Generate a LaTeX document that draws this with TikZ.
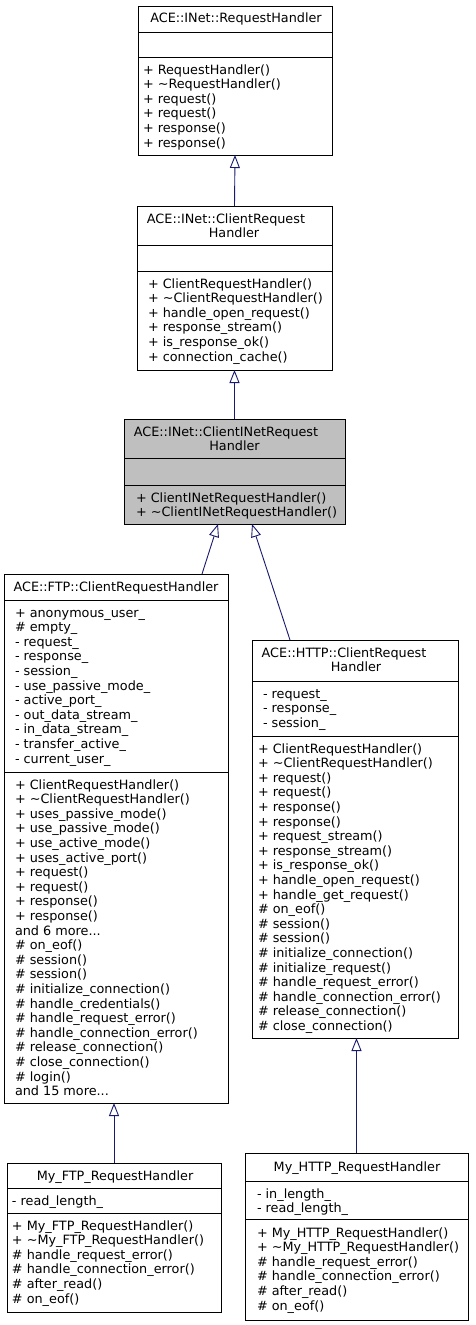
\documentclass[tikz,border=0pt]{standalone}
\usepackage{fontspec}
\setmainfont{DejaVu Sans}
\usetikzlibrary{arrows.meta}
\definecolor{edgeblue}{RGB}{25,25,112}
\definecolor{hlgray}{RGB}{191,191,191}
\tikzset{
  clsbox/.style={draw=black, line width=0.9pt, inner sep=0pt, outer sep=0pt, anchor=north west},
  divider/.style={draw=black, line width=0.9pt},
  txt/.style={inner sep=0pt, outer sep=0pt, font=\fontsize{12.8}{14.6}\selectfont},
  inh/.style={draw=edgeblue, line width=0.9pt, -{Triangle[open, length=13pt, width=10pt, fill=white]}},
}
\newcommand\Ellip{...}
\newcommand\ClassBox[7]{%
  \node[clsbox, fill=#6, minimum width={(#3)-(#2)}, minimum height={(#5)-(#4)}] (#1) at (#2,#4) {};
  \foreach \d in {#7} \draw[divider] (#2,\d) -- (#3,\d);
}
\newcommand\Lines[5]{%
  \foreach \t [count=\i] in {#5} \node[txt, anchor=#4] (#1-\i) at ({#2},{#3+14.6*(\i-1)}) {\t};
}
\begin{document}
\begin{tikzpicture}[x=1pt, y=-1pt]
\fill[white] (0,0) rectangle (475,1325);
\useasboundingbox (0,0) rectangle (475,1325);

% ACE::INet::RequestHandler
\ClassBox{rh}{138}{332}{6}{155}{white}{32,57}
\Lines{rht}{236}{23}{base}{ACE::INet::RequestHandler}
\Lines{rhm}{143}{74}{base west}{+ RequestHandler(), + \textasciitilde RequestHandler(), + request(), + request(), + response(), + response()}

% ACE::INet::ClientRequestHandler
\ClassBox{crh}{137}{332}{206}{370}{white}{245,271}
\Lines{crht}{226}{223}{base}{ACE::INet::ClientRequest}
\Lines{crht2}{234}{237.6}{base}{Handler}
\Lines{crhm}{148}{288}{base west}{+ ClientRequestHandler(), + \textasciitilde ClientRequestHandler(), + handle\_open\_request(), + response\_stream(), + is\_response\_ok(), + connection\_cache()}

% ACE::INet::ClientINetRequestHandler
\ClassBox{inet}{124}{345}{419}{524}{hlgray}{458,485}
\Lines{inett}{226}{436}{base}{ACE::INet::ClientINetRequest}
\Lines{inett2}{234.5}{450.6}{base}{Handler}
\Lines{inetm}{136}{502}{base west}{+ ClientINetRequestHandler(), + \textasciitilde ClientINetRequestHandler()}

% ACE::FTP::ClientRequestHandler
\ClassBox{ftp}{4}{228}{574}{1103}{white}{600,772}
\Lines{ftpt}{116}{591}{base}{ACE::FTP::ClientRequestHandler}
\Lines{ftpa}{15}{617}{base west}{+ anonymous\_user\_, \# empty\_, - request\_, - response\_, - session\_, - use\_passive\_mode\_, - active\_port\_, - out\_data\_stream\_, - in\_data\_stream\_, - transfer\_active\_, - current\_user\_}
\Lines{ftpm}{15}{789}{base west}{+ ClientRequestHandler(), + \textasciitilde ClientRequestHandler(), + uses\_passive\_mode(), + use\_passive\_mode(), + use\_active\_mode(), + uses\_active\_port(), + request(), + request(), + response(), + response(), and 6 more\Ellip, \# on\_eof(), \# session(), \# session(), \# initialize\_connection(), \# handle\_credentials(), \# handle\_request\_error(), \# handle\_connection\_error(), \# release\_connection(), \# close\_connection(), \# login(), and 15 more\Ellip}

% ACE::HTTP::ClientRequestHandler
\ClassBox{http}{252}{458}{640}{1038}{white}{681,736}
\Lines{httpt}{344}{657}{base}{ACE::HTTP::ClientRequest}
\Lines{httpt2}{356}{671.6}{base}{Handler}
\Lines{httpa}{263}{698}{base west}{- request\_, - response\_, - session\_}
\Lines{httpm}{258}{753}{base west}{+ ClientRequestHandler(), + \textasciitilde ClientRequestHandler(), + request(), + request(), + response(), + response(), + request\_stream(), + response\_stream(), + is\_response\_ok(), + handle\_open\_request(), + handle\_get\_request(), \# on\_eof(), \# session(), \# session(), \# initialize\_connection(), \# initialize\_request(), \# handle\_request\_error(), \# handle\_connection\_error(), \# release\_connection(), \# close\_connection()}

% My_FTP_RequestHandler
\ClassBox{myftp}{7}{221}{1163}{1312}{white}{1188,1213}
\Lines{myftpt}{115}{1180}{base}{My\_FTP\_RequestHandler}
\Lines{myftpa}{12}{1205}{base west}{- read\_length\_}
\Lines{myftpm}{12}{1230}{base west}{+ My\_FTP\_RequestHandler(), + \textasciitilde My\_FTP\_RequestHandler(), \# handle\_request\_error(), \# handle\_connection\_error(), \# after\_read(), \# on\_eof()}

% My_HTTP_RequestHandler
\ClassBox{myhttp}{245}{468}{1153}{1320}{white}{1181,1219}
\Lines{myhttpt}{357}{1171}{base}{My\_HTTP\_RequestHandler}
\Lines{myhttpa}{257}{1198}{base west}{- in\_length\_, - read\_length\_}
\Lines{myhttpm}{257}{1237}{base west}{+ My\_HTTP\_RequestHandler(), + \textasciitilde My\_HTTP\_RequestHandler(), \# handle\_request\_error(), \# handle\_connection\_error(), \# after\_read(), \# on\_eof()}

% inheritance connectors
\draw[inh] (crh.north) -- (rh.south);
\draw[inh] (inet.north) -- (crh.south);
\draw[inh] ([xshift=86pt]ftp.north) -- ([xshift=-16.5pt]inet.south);
\draw[inh] ([xshift=-65pt]http.north) -- ([xshift=17.5pt]inet.south);
\draw[inh] (myftp.north) -- (myftp.north |- ftp.south);
\draw[inh] (myhttp.north) -- (myhttp.north |- http.south);
\end{tikzpicture}
\end{document}
